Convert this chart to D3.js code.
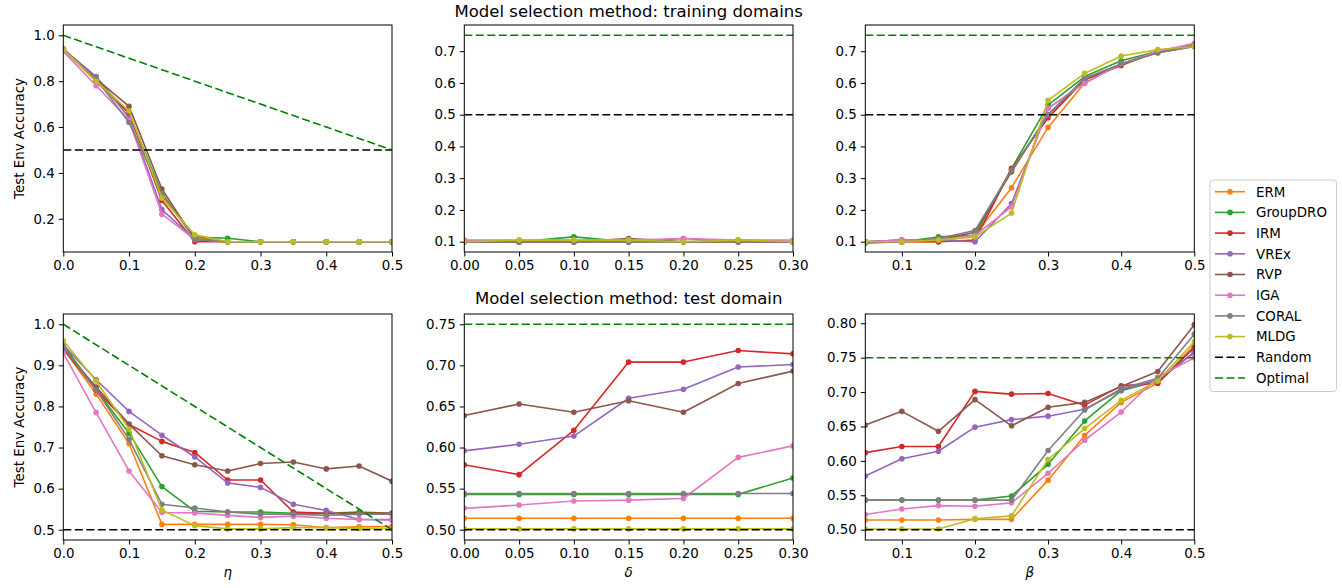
<!DOCTYPE html>
<html>
<head>
<meta charset="utf-8">
<script src="https://cdn.jsdelivr.net/npm/d3@7"></script>
<style>
  html, body { margin: 0; padding: 0; background: #fff; }
  svg { display: block; font-family: "DejaVu Sans", sans-serif; }
</style>
</head>
<body>
<svg id="chart" width="1342" height="588"></svg>
<script>
// ---------------- DATA ----------------
const methods = ["ERM", "GroupDRO", "IRM", "VREx", "RVP", "IGA", "CORAL", "MLDG"];
const methodColors = ["#ff7f0e", "#2ca02c", "#d62728", "#9467bd", "#8c564b", "#e377c2", "#7f7f7f", "#bcbd22"];

const etaX = [0.0, 0.05, 0.1, 0.15, 0.2, 0.25, 0.3, 0.35, 0.4, 0.45, 0.5];
const deltaX = [0.0, 0.05, 0.1, 0.15, 0.2, 0.25, 0.3];
const betaX = [0.05, 0.1, 0.15, 0.2, 0.25, 0.3, 0.35, 0.4, 0.45, 0.5];

// Top row: model selection on training domains
const trainEta = {
  ERM:      [0.94, 0.80, 0.66, 0.30, 0.12, 0.10, 0.10, 0.10, 0.10, 0.10, 0.10],
  GroupDRO: [0.94, 0.81, 0.66, 0.31, 0.12, 0.115, 0.10, 0.10, 0.10, 0.10, 0.10],
  IRM:      [0.94, 0.80, 0.66, 0.28, 0.10, 0.10, 0.10, 0.10, 0.10, 0.10, 0.10],
  VREx:     [0.94, 0.82, 0.64, 0.24, 0.11, 0.10, 0.10, 0.10, 0.10, 0.10, 0.10],
  RVP:      [0.94, 0.81, 0.69, 0.33, 0.11, 0.10, 0.10, 0.10, 0.10, 0.10, 0.10],
  IGA:      [0.93, 0.78, 0.63, 0.22, 0.11, 0.10, 0.10, 0.10, 0.10, 0.10, 0.10],
  CORAL:    [0.94, 0.81, 0.62, 0.31, 0.11, 0.10, 0.10, 0.10, 0.10, 0.10, 0.10],
  MLDG:     [0.94, 0.80, 0.67, 0.29, 0.13, 0.10, 0.10, 0.10, 0.10, 0.10, 0.10]
};
const trainDelta = {
  ERM:      [0.100, 0.100, 0.100, 0.100, 0.100, 0.100, 0.100],
  GroupDRO: [0.100, 0.100, 0.115, 0.100, 0.100, 0.105, 0.100],
  IRM:      [0.100, 0.100, 0.100, 0.105, 0.100, 0.100, 0.100],
  VREx:     [0.100, 0.100, 0.100, 0.100, 0.110, 0.100, 0.100],
  RVP:      [0.100, 0.100, 0.100, 0.110, 0.100, 0.100, 0.100],
  IGA:      [0.105, 0.105, 0.105, 0.105, 0.110, 0.105, 0.105],
  CORAL:    [0.100, 0.100, 0.100, 0.098, 0.100, 0.100, 0.100],
  MLDG:     [0.100, 0.105, 0.105, 0.105, 0.100, 0.105, 0.100]
};
const trainBeta = {
  ERM:      [0.100, 0.100, 0.100, 0.120, 0.270, 0.460, 0.600, 0.660, 0.700, 0.720],
  GroupDRO: [0.100, 0.100, 0.115, 0.120, 0.330, 0.530, 0.620, 0.670, 0.700, 0.720],
  IRM:      [0.100, 0.100, 0.100, 0.105, 0.330, 0.490, 0.610, 0.655, 0.700, 0.720],
  VREx:     [0.100, 0.105, 0.105, 0.100, 0.220, 0.520, 0.600, 0.660, 0.700, 0.720],
  RVP:      [0.100, 0.105, 0.105, 0.130, 0.320, 0.500, 0.610, 0.660, 0.695, 0.715],
  IGA:      [0.100, 0.105, 0.105, 0.120, 0.210, 0.520, 0.600, 0.660, 0.700, 0.725],
  CORAL:    [0.095, 0.100, 0.110, 0.135, 0.325, 0.500, 0.615, 0.660, 0.695, 0.715],
  MLDG:     [0.100, 0.100, 0.105, 0.115, 0.190, 0.545, 0.630, 0.685, 0.705, 0.715]
};

// Bottom row: model selection on test domain
const testEta = {
  ERM:      [0.940, 0.830, 0.710, 0.513, 0.513, 0.513, 0.513, 0.512, 0.505, 0.507, 0.508],
  GroupDRO: [0.950, 0.840, 0.735, 0.605, 0.545, 0.543, 0.543, 0.540, 0.540, 0.543, 0.540],
  IRM:      [0.940, 0.840, 0.756, 0.715, 0.688, 0.621, 0.621, 0.543, 0.540, 0.540, 0.540],
  VREx:     [0.950, 0.865, 0.788, 0.730, 0.677, 0.614, 0.603, 0.562, 0.547, 0.525, 0.525],
  RVP:      [0.940, 0.847, 0.757, 0.680, 0.658, 0.643, 0.661, 0.665, 0.648, 0.655, 0.618],
  IGA:      [0.930, 0.785, 0.643, 0.542, 0.541, 0.535, 0.530, 0.533, 0.528, 0.525, 0.523],
  CORAL:    [0.945, 0.840, 0.720, 0.562, 0.553, 0.543, 0.538, 0.538, 0.535, 0.538, 0.538],
  MLDG:     [0.960, 0.862, 0.745, 0.548, 0.510, 0.502, 0.502, 0.505, 0.505, 0.503, 0.503]
};
const testDelta = {
  ERM:      [0.514, 0.514, 0.514, 0.514, 0.514, 0.514, 0.514],
  GroupDRO: [0.543, 0.543, 0.543, 0.543, 0.543, 0.543, 0.563],
  IRM:      [0.579, 0.567, 0.621, 0.704, 0.704, 0.718, 0.714],
  VREx:     [0.596, 0.604, 0.614, 0.660, 0.671, 0.698, 0.701],
  RVP:      [0.639, 0.653, 0.643, 0.657, 0.643, 0.678, 0.693],
  IGA:      [0.526, 0.530, 0.535, 0.536, 0.538, 0.588, 0.602],
  CORAL:    [0.544, 0.544, 0.544, 0.544, 0.544, 0.544, 0.544],
  MLDG:     [0.501, 0.501, 0.501, 0.501, 0.501, 0.501, 0.501]
};
const testBeta = {
  ERM:      [0.514, 0.514, 0.514, 0.515, 0.515, 0.572, 0.637, 0.685, 0.713, 0.768],
  GroupDRO: [0.543, 0.543, 0.543, 0.543, 0.549, 0.595, 0.658, 0.702, 0.716, 0.758],
  IRM:      [0.612, 0.621, 0.621, 0.701, 0.697, 0.698, 0.681, 0.709, 0.713, 0.765],
  VREx:     [0.578, 0.603, 0.614, 0.649, 0.660, 0.665, 0.675, 0.703, 0.718, 0.757],
  RVP:      [0.652, 0.672, 0.643, 0.689, 0.651, 0.678, 0.685, 0.708, 0.730, 0.798],
  IGA:      [0.522, 0.530, 0.535, 0.534, 0.539, 0.582, 0.630, 0.671, 0.722, 0.750],
  CORAL:    [0.543, 0.543, 0.543, 0.543, 0.543, 0.615, 0.674, 0.705, 0.720, 0.784],
  MLDG:     [0.501, 0.501, 0.501, 0.516, 0.520, 0.602, 0.647, 0.688, 0.716, 0.773]
};

const randomEta = [0.5, 0.5, 0.5, 0.5, 0.5, 0.5, 0.5, 0.5, 0.5, 0.5, 0.5];
const optimalEta = [1.0, 0.95, 0.9, 0.85, 0.8, 0.75, 0.7, 0.65, 0.6, 0.55, 0.5];
const randomDelta = [0.5, 0.5, 0.5, 0.5, 0.5, 0.5, 0.5];
const optimalDelta = [0.75, 0.75, 0.75, 0.75, 0.75, 0.75, 0.75];
const randomBeta = [0.5, 0.5, 0.5, 0.5, 0.5, 0.5, 0.5, 0.5, 0.5, 0.5];
const optimalBeta = [0.75, 0.75, 0.75, 0.75, 0.75, 0.75, 0.75, 0.75, 0.75, 0.75];

const titles = ["Model selection method: training domains", "Model selection method: test domain"];
const xLabels = ["\u03b7", "\u03b4", "\u03b2"];
const yLabel = "Test Env Accuracy";
const legendLabels = methods.concat(["Random", "Optimal"]);

const etaTicks = [0.0, 0.1, 0.2, 0.3, 0.4, 0.5];
const deltaTicks = [0.00, 0.05, 0.10, 0.15, 0.20, 0.25, 0.30];
const betaTicks = [0.1, 0.2, 0.3, 0.4, 0.5];

// ---------------- LAYOUT ----------------
const svg = d3.select("#chart");
const colsX = [[63.3, 392], [464.3, 793], [865.3, 1194.3]];
const rowsY = [[25, 252], [314, 540]];
const FS = 13.4;

const panels = [
  { row: 0, col: 0, x: etaX, data: trainEta, rnd: randomEta, opt: optimalEta, xd: [0, 0.5], yd: [0.055, 1.045], xt: etaTicks, xf: ".1f", yt: [0.2, 0.4, 0.6, 0.8, 1.0], yf: ".1f" },
  { row: 0, col: 1, x: deltaX, data: trainDelta, rnd: randomDelta, opt: optimalDelta, xd: [0, 0.3], yd: [0.0675, 0.7825], xt: deltaTicks, xf: ".2f", yt: [0.1, 0.2, 0.3, 0.4, 0.5, 0.6, 0.7], yf: ".1f" },
  { row: 0, col: 2, x: betaX, data: trainBeta, rnd: randomBeta, opt: optimalBeta, xd: [0.05, 0.5], yd: [0.0675, 0.7825], xt: betaTicks, xf: ".1f", yt: [0.1, 0.2, 0.3, 0.4, 0.5, 0.6, 0.7], yf: ".1f" },
  { row: 1, col: 0, x: etaX, data: testEta, rnd: randomEta, opt: optimalEta, xd: [0, 0.5], yd: [0.475, 1.025], xt: etaTicks, xf: ".1f", yt: [0.5, 0.6, 0.7, 0.8, 0.9, 1.0], yf: ".1f" },
  { row: 1, col: 1, x: deltaX, data: testDelta, rnd: randomDelta, opt: optimalDelta, xd: [0, 0.3], yd: [0.4875, 0.7625], xt: deltaTicks, xf: ".2f", yt: [0.50, 0.55, 0.60, 0.65, 0.70, 0.75], yf: ".2f" },
  { row: 1, col: 2, x: betaX, data: testBeta, rnd: randomBeta, opt: optimalBeta, xd: [0.05, 0.5], yd: [0.485, 0.8135], xt: betaTicks, xf: ".1f", yt: [0.50, 0.55, 0.60, 0.65, 0.70, 0.75, 0.80], yf: ".2f" }
];

const defs = svg.append("defs");

panels.forEach((p, i) => {
  const [x0, x1] = colsX[p.col];
  const [y0, y1] = rowsY[p.row];
  const xs = d3.scaleLinear().domain(p.xd).range([x0, x1]);
  const ys = d3.scaleLinear().domain(p.yd).range([y1, y0]);
  const g = svg.append("g");

  defs.append("clipPath").attr("id", "clip" + i)
    .append("rect").attr("x", x0).attr("y", y0).attr("width", x1 - x0).attr("height", y1 - y0);

  const plot = g.append("g").attr("clip-path", "url(#clip" + i + ")");
  const line = d3.line().x((d, j) => xs(p.x[j])).y(d => ys(d));

  methods.forEach((m, k) => {
    const vals = p.data[m];
    plot.append("path").datum(vals)
      .attr("d", line).attr("fill", "none")
      .attr("stroke", methodColors[k]).attr("stroke-width", 1.6)
      .attr("stroke-linejoin", "round");
    plot.selectAll(null).data(vals).enter().append("circle")
      .attr("cx", (d, j) => xs(p.x[j])).attr("cy", d => ys(d))
      .attr("r", 2.8).attr("fill", methodColors[k]);
  });
  plot.append("path").datum(p.rnd).attr("d", line).attr("fill", "none")
    .attr("stroke", "#000").attr("stroke-width", 1.6).attr("stroke-dasharray", "8,3.5");
  plot.append("path").datum(p.opt).attr("d", line).attr("fill", "none")
    .attr("stroke", "#008000").attr("stroke-width", 1.6).attr("stroke-dasharray", "8,3.5");

  // axes
  const xAxis = d3.axisBottom(xs).tickValues(p.xt).tickFormat(d3.format(p.xf)).tickSizeOuter(0).tickSize(4.5).tickPadding(4);
  const yAxis = d3.axisLeft(ys).tickValues(p.yt).tickFormat(d3.format(p.yf)).tickSizeOuter(0).tickSize(4.5).tickPadding(4);
  const gx = g.append("g").attr("transform", `translate(0,${y1})`).call(xAxis);
  const gy = g.append("g").attr("transform", `translate(${x0},0)`).call(yAxis);
  [gx, gy].forEach(a => {
    a.select(".domain").remove();
    a.selectAll("line").attr("stroke", "#000").attr("stroke-width", 1);
    a.selectAll("text").attr("font-size", FS).attr("font-family", "DejaVu Sans").attr("fill", "#000");
  });

  g.append("rect").attr("x", x0).attr("y", y0).attr("width", x1 - x0).attr("height", y1 - y0)
    .attr("fill", "none").attr("stroke", "#000").attr("stroke-width", 1);

  if (p.col === 0) {
    g.append("text").attr("transform", `translate(24,${(y0 + y1) / 2}) rotate(-90)`)
      .attr("text-anchor", "middle").attr("font-size", FS).text(yLabel);
  }
  if (p.row === 1) {
    g.append("text").attr("x", (x0 + x1) / 2).attr("y", 577)
      .attr("text-anchor", "middle").attr("font-size", FS).attr("font-style", "italic").text(xLabels[p.col]);
  }
  if (p.col === 1) {
    g.append("text").attr("x", (x0 + x1) / 2).attr("y", p.row === 0 ? 17 : 304)
      .attr("text-anchor", "middle").attr("font-size", 16.5).text(titles[p.row]);
  }
});

// legend
const lg = svg.append("g");
lg.append("rect").attr("x", 1210).attr("y", 180).attr("width", 126.5).attr("height", 211.5)
  .attr("rx", 3).attr("fill", "#fff").attr("fill-opacity", 0.8).attr("stroke", "#ccc").attr("stroke-width", 1);
legendLabels.forEach((lab, i) => {
  const cy = 191.7 + i * 20.7;
  const isM = i < methods.length;
  const col = isM ? methodColors[i] : (lab === "Random" ? "#000" : "#008000");
  lg.append("line").attr("x1", 1215).attr("x2", 1245).attr("y1", cy).attr("y2", cy)
    .attr("stroke", col).attr("stroke-width", 1.6)
    .attr("stroke-dasharray", isM ? null : "8,3.5");
  if (isM) lg.append("circle").attr("cx", 1230).attr("cy", cy).attr("r", 2.8).attr("fill", col);
  lg.append("text").attr("x", 1256).attr("y", cy + 4.8).attr("font-size", FS).text(lab);
});
</script>
</body>
</html>
